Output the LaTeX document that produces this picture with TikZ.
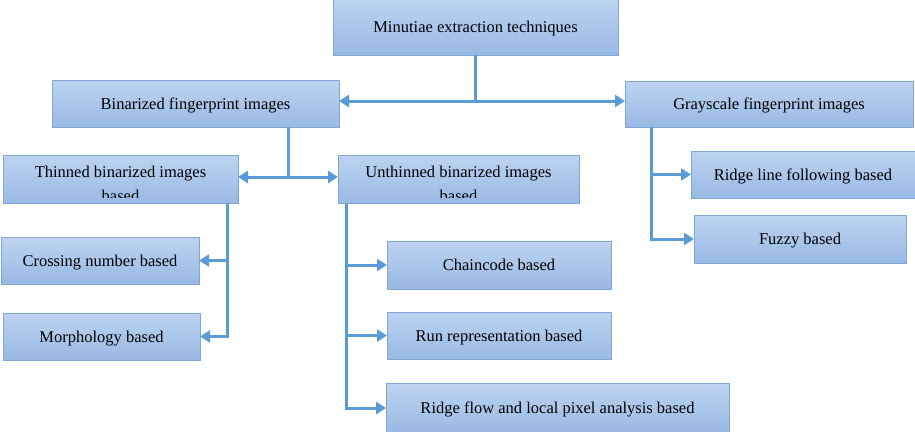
\documentclass[tikz,border=0pt]{standalone}
\usepackage{fontspec}
\setmainfont{Liberation Serif}
\usetikzlibrary{arrows.meta}
\definecolor{lineblue}{HTML}{5B9BD5}
\definecolor{boxtop}{HTML}{BDD4F1}
\definecolor{boxbot}{HTML}{98B9E4}
\definecolor{boxedge}{HTML}{7EA6D6}
\begin{document}
\begin{tikzpicture}[x=1pt,y=-1pt,
  box/.style={draw=boxedge, line width=0.8pt, top color=boxtop, bottom color=boxbot,
    inner sep=0pt, outer sep=0pt, font=\fontsize{16.5}{20}\selectfont, align=center,
    text height=14pt, text depth=3pt},
  txt/.style={font=\fontsize{16.5}{20}\selectfont, inner sep=0pt, anchor=base},
  conn/.style={draw=lineblue, line width=3pt},
  >={Triangle[length=10pt,width=12pt]}]
\useasboundingbox (0,0) rectangle (915,431);
% boxes
\node[box, minimum width=285pt, minimum height=57pt] (root) at (475.5,26.5) {Minutiae extraction techniques};
\node[box, minimum width=287pt, minimum height=47pt] (bin) at (195.5,103.5) {Binarized fingerprint images};
\node[box, minimum width=288pt, minimum height=46pt] (gray) at (769,104) {Grayscale fingerprint images};
\node[box, minimum width=224pt, minimum height=47pt] (ridge) at (803,174.5) {Ridge line following based};
\node[box, minimum width=212pt, minimum height=48pt] (fuzzy) at (800,239) {Fuzzy based};
\node[box, minimum width=235pt, minimum height=48pt] (thin) at (120.5,179) {};
\node[box, minimum width=241pt, minimum height=48pt] (unthin) at (458.5,179) {};
\node[box, minimum width=198pt, minimum height=47pt] (cross) at (100,260.5) {Crossing number based};
\node[box, minimum width=197pt, minimum height=47pt] (morph) at (101.5,336.5) {Morphology based};
\node[box, minimum width=224pt, minimum height=48pt] (chain) at (499,265) {Chaincode based};
\node[box, minimum width=224pt, minimum height=47pt] (run) at (499,335.5) {Run representation based};
\node[box, minimum width=343pt, minimum height=50pt] (flow) at (557.5,408) {Ridge flow and local pixel analysis based};
% clipped two-line texts
\begin{scope}
  \clip (thin.north west) rectangle ([yshift=6pt]thin.south east);
  \node[txt] (thinA) at (120.5,177) {Thinned binarized images};
  \node[txt] (thinB) at (120.5,201) {based};
\end{scope}
\begin{scope}
  \clip (unthin.north west) rectangle ([yshift=6pt]unthin.south east);
  \node[txt] (unthinA) at (458.5,177) {Unthinned binarized images};
  \node[txt] (unthinB) at (458.5,201) {based};
\end{scope}
% connectors
\coordinate (h1) at (475.5,101);
\draw[conn] (root.south) -- (root.south |- h1);
\draw[conn,<->] (bin.east |- h1) -- (gray.west |- h1);
\coordinate (h2) at (288,177);
\draw[conn] (bin.south -| h2) -- (h2);
\draw[conn,<->] (thin.east |- h2) -- (unthin.west |- h2);
\coordinate (tx) at (227,0);
\draw[conn,->] (thin.south -| tx) |- (morph.east);
\draw[conn,->] (tx |- cross.east) -- (cross.east);
\coordinate (ux) at (346,0);
\draw[conn,->] (unthin.south -| ux) |- (flow.west);
\draw[conn,->] (ux |- chain.west) -- (chain.west);
\draw[conn,->] (ux |- run.west) -- (run.west);
\coordinate (gx) at (651,0);
\draw[conn,->] (gray.south -| gx) |- (fuzzy.west);
\draw[conn,->] (gx |- ridge.west) -- (ridge.west);
\end{tikzpicture}
\end{document}
